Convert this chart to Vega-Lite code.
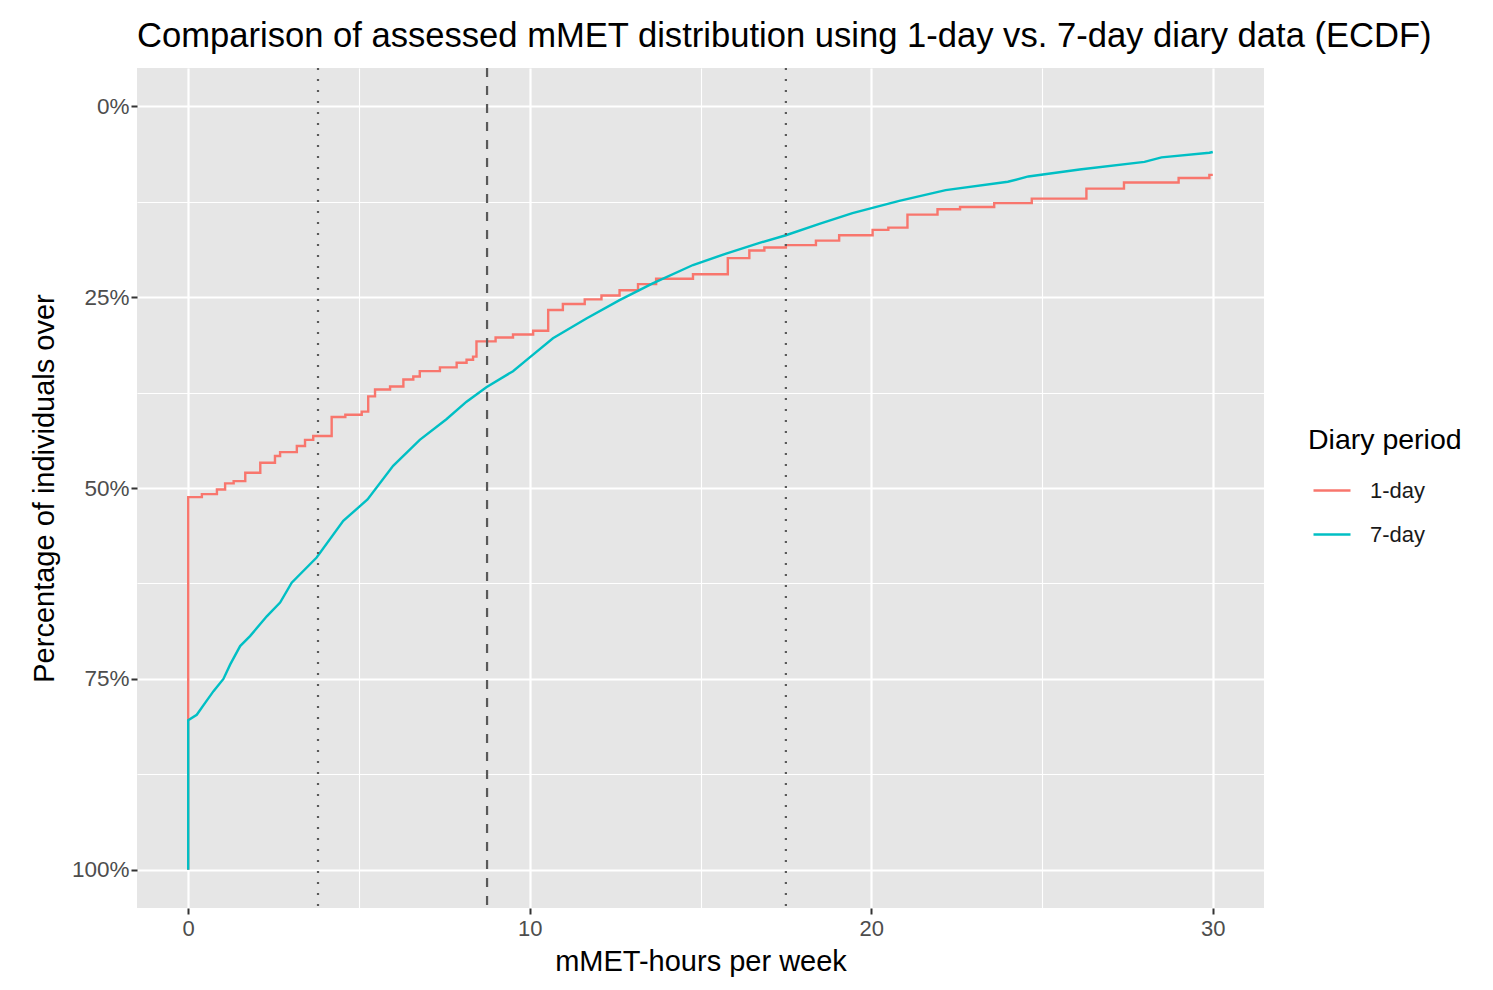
{
  "$schema": "https://vega.github.io/schema/vega-lite/v6.json",
  "width": 1127,
  "height": 840,
  "autosize": {"type": "none"},
  "padding": {"left": 137, "top": 68, "right": 229, "bottom": 82},
  "background": "white",
  "title": {
    "text": "Comparison of assessed mMET distribution using 1-day vs. 7-day diary data (ECDF)",
    "anchor": "start",
    "frame": "group",
    "font": "Liberation Sans",
    "fontSize": 34.6,
    "fontWeight": "normal",
    "color": "#000000",
    "offset": 12
  },
  "config": {
    "view": {"fill": "#E6E6E6", "stroke": null},
    "font": "Liberation Sans"
  },
  "datasets": {
    "ecdf": [
      {"period": "1-day", "ord": 0, "mmet": 0, "pct": 100},
      {"period": "1-day", "ord": 1, "mmet": 0, "pct": 51.2},
      {"period": "1-day", "ord": 2, "mmet": 0.4, "pct": 50.8},
      {"period": "1-day", "ord": 3, "mmet": 0.84, "pct": 50.2},
      {"period": "1-day", "ord": 4, "mmet": 1.08, "pct": 49.4},
      {"period": "1-day", "ord": 5, "mmet": 1.33, "pct": 49.1},
      {"period": "1-day", "ord": 6, "mmet": 1.67, "pct": 48.0},
      {"period": "1-day", "ord": 7, "mmet": 2.11, "pct": 46.7},
      {"period": "1-day", "ord": 8, "mmet": 2.54, "pct": 45.8},
      {"period": "1-day", "ord": 9, "mmet": 2.69, "pct": 45.3},
      {"period": "1-day", "ord": 10, "mmet": 3.18, "pct": 44.5},
      {"period": "1-day", "ord": 11, "mmet": 3.42, "pct": 43.7},
      {"period": "1-day", "ord": 12, "mmet": 3.66, "pct": 43.2},
      {"period": "1-day", "ord": 13, "mmet": 4.2, "pct": 40.7},
      {"period": "1-day", "ord": 14, "mmet": 4.6, "pct": 40.4},
      {"period": "1-day", "ord": 15, "mmet": 5.08, "pct": 40.0},
      {"period": "1-day", "ord": 16, "mmet": 5.27, "pct": 38.0},
      {"period": "1-day", "ord": 17, "mmet": 5.47, "pct": 37.1},
      {"period": "1-day", "ord": 18, "mmet": 5.91, "pct": 36.7},
      {"period": "1-day", "ord": 19, "mmet": 6.3, "pct": 35.8},
      {"period": "1-day", "ord": 20, "mmet": 6.59, "pct": 35.4},
      {"period": "1-day", "ord": 21, "mmet": 6.78, "pct": 34.7},
      {"period": "1-day", "ord": 22, "mmet": 7.37, "pct": 34.2},
      {"period": "1-day", "ord": 23, "mmet": 7.86, "pct": 33.6},
      {"period": "1-day", "ord": 24, "mmet": 8.15, "pct": 33.2},
      {"period": "1-day", "ord": 25, "mmet": 8.34, "pct": 32.8},
      {"period": "1-day", "ord": 26, "mmet": 8.44, "pct": 30.8},
      {"period": "1-day", "ord": 27, "mmet": 9.0, "pct": 30.3},
      {"period": "1-day", "ord": 28, "mmet": 9.51, "pct": 29.9},
      {"period": "1-day", "ord": 29, "mmet": 10.1, "pct": 29.4},
      {"period": "1-day", "ord": 30, "mmet": 10.54, "pct": 26.7},
      {"period": "1-day", "ord": 31, "mmet": 10.97, "pct": 25.9},
      {"period": "1-day", "ord": 32, "mmet": 11.61, "pct": 25.3},
      {"period": "1-day", "ord": 33, "mmet": 12.1, "pct": 24.8},
      {"period": "1-day", "ord": 34, "mmet": 12.63, "pct": 24.1},
      {"period": "1-day", "ord": 35, "mmet": 13.17, "pct": 23.3},
      {"period": "1-day", "ord": 36, "mmet": 13.7, "pct": 22.6},
      {"period": "1-day", "ord": 37, "mmet": 14.78, "pct": 22.0},
      {"period": "1-day", "ord": 38, "mmet": 15.8, "pct": 19.9},
      {"period": "1-day", "ord": 39, "mmet": 16.43, "pct": 18.9},
      {"period": "1-day", "ord": 40, "mmet": 16.87, "pct": 18.5},
      {"period": "1-day", "ord": 41, "mmet": 17.5, "pct": 18.2},
      {"period": "1-day", "ord": 42, "mmet": 18.38, "pct": 17.6},
      {"period": "1-day", "ord": 43, "mmet": 19.06, "pct": 16.9},
      {"period": "1-day", "ord": 44, "mmet": 20.04, "pct": 16.2},
      {"period": "1-day", "ord": 45, "mmet": 20.5, "pct": 15.9},
      {"period": "1-day", "ord": 46, "mmet": 21.06, "pct": 14.2},
      {"period": "1-day", "ord": 47, "mmet": 21.94, "pct": 13.5},
      {"period": "1-day", "ord": 48, "mmet": 22.6, "pct": 13.2},
      {"period": "1-day", "ord": 49, "mmet": 23.6, "pct": 12.7},
      {"period": "1-day", "ord": 50, "mmet": 24.7, "pct": 12.1},
      {"period": "1-day", "ord": 51, "mmet": 26.3, "pct": 10.8},
      {"period": "1-day", "ord": 52, "mmet": 27.4, "pct": 10.0},
      {"period": "1-day", "ord": 53, "mmet": 29.0, "pct": 9.4},
      {"period": "1-day", "ord": 54, "mmet": 29.9, "pct": 9.0},
      {"period": "1-day", "ord": 55, "mmet": 30.0, "pct": 9.0},
      {"period": "7-day", "ord": 0, "mmet": 0, "pct": 100},
      {"period": "7-day", "ord": 1, "mmet": 0, "pct": 80.4},
      {"period": "7-day", "ord": 2, "mmet": 0.25, "pct": 79.7},
      {"period": "7-day", "ord": 3, "mmet": 0.5, "pct": 78.1},
      {"period": "7-day", "ord": 4, "mmet": 0.74, "pct": 76.6},
      {"period": "7-day", "ord": 5, "mmet": 1.03, "pct": 75.0},
      {"period": "7-day", "ord": 6, "mmet": 1.23, "pct": 73.1},
      {"period": "7-day", "ord": 7, "mmet": 1.52, "pct": 70.7},
      {"period": "7-day", "ord": 8, "mmet": 1.81, "pct": 69.4},
      {"period": "7-day", "ord": 9, "mmet": 2.3, "pct": 66.8},
      {"period": "7-day", "ord": 10, "mmet": 2.69, "pct": 65.0},
      {"period": "7-day", "ord": 11, "mmet": 3.03, "pct": 62.4},
      {"period": "7-day", "ord": 12, "mmet": 3.76, "pct": 59.1},
      {"period": "7-day", "ord": 13, "mmet": 4.54, "pct": 54.3},
      {"period": "7-day", "ord": 14, "mmet": 5.25, "pct": 51.5},
      {"period": "7-day", "ord": 15, "mmet": 6.0, "pct": 47.1},
      {"period": "7-day", "ord": 16, "mmet": 6.78, "pct": 43.7},
      {"period": "7-day", "ord": 17, "mmet": 7.56, "pct": 41.0},
      {"period": "7-day", "ord": 18, "mmet": 8.15, "pct": 38.7},
      {"period": "7-day", "ord": 19, "mmet": 8.73, "pct": 36.8},
      {"period": "7-day", "ord": 20, "mmet": 9.51, "pct": 34.7},
      {"period": "7-day", "ord": 21, "mmet": 10.0, "pct": 32.9},
      {"period": "7-day", "ord": 22, "mmet": 10.68, "pct": 30.4},
      {"period": "7-day", "ord": 23, "mmet": 11.66, "pct": 27.8},
      {"period": "7-day", "ord": 24, "mmet": 12.63, "pct": 25.4},
      {"period": "7-day", "ord": 25, "mmet": 13.6, "pct": 23.2},
      {"period": "7-day", "ord": 26, "mmet": 14.78, "pct": 20.8},
      {"period": "7-day", "ord": 27, "mmet": 15.75, "pct": 19.3},
      {"period": "7-day", "ord": 28, "mmet": 16.73, "pct": 17.9},
      {"period": "7-day", "ord": 29, "mmet": 17.5, "pct": 16.9},
      {"period": "7-day", "ord": 30, "mmet": 18.48, "pct": 15.4},
      {"period": "7-day", "ord": 31, "mmet": 19.45, "pct": 14.0},
      {"period": "7-day", "ord": 32, "mmet": 20.82, "pct": 12.4},
      {"period": "7-day", "ord": 33, "mmet": 22.18, "pct": 11.0},
      {"period": "7-day", "ord": 34, "mmet": 24.0, "pct": 9.9},
      {"period": "7-day", "ord": 35, "mmet": 24.6, "pct": 9.2},
      {"period": "7-day", "ord": 36, "mmet": 26.1, "pct": 8.3},
      {"period": "7-day", "ord": 37, "mmet": 28.0, "pct": 7.3},
      {"period": "7-day", "ord": 38, "mmet": 28.5, "pct": 6.7},
      {"period": "7-day", "ord": 39, "mmet": 29.9, "pct": 6.1},
      {"period": "7-day", "ord": 40, "mmet": 30.0, "pct": 6.0}
    ],
    "cutoffs": [
      {"cutoff": 3.8, "kind": "dotted"},
      {"cutoff": 8.75, "kind": "dashed"},
      {"cutoff": 17.5, "kind": "dotted"}
    ]
  },
  "layer": [
    {
      "data": {"name": "ecdf"},
      "transform": [{"filter": "datum.period === '1-day'"}],
      "mark": {"type": "line", "interpolate": "step-after", "strokeWidth": 2.4},
      "encoding": {
        "x": {
          "field": "mmet",
          "type": "quantitative",
          "scale": {"domain": [-1.5, 31.5], "nice": false, "zero": false},
          "axis": {
            "title": "mMET-hours per week",
            "values": [0, 5, 10, 15, 20, 25, 30],
            "labelExpr": "datum.value % 10 === 0 ? datum.label : ''",
            "domain": false,
            "grid": true,
            "gridColor": "#FFFFFF",
            "gridWidth": {"condition": {"test": "datum.value % 10 === 0", "value": 2.2}, "value": 1.1},
            "tickOpacity": {"condition": {"test": "datum.value % 10 === 0", "value": 1}, "value": 0},
            "tickColor": "#333333",
            "tickWidth": 2,
            "tickSize": 6,
            "labelColor": "#4D4D4D",
            "labelFontSize": 22,
            "labelPadding": 4,
            "titleFontSize": 29,
            "titleFontWeight": "normal",
            "titleColor": "#000000",
            "titlePadding": 8
          }
        },
        "y": {
          "field": "pct",
          "type": "quantitative",
          "scale": {"domain": [-5, 105], "nice": false, "zero": false, "reverse": true},
          "axis": {
            "title": "Percentage of individuals over",
            "values": [0, 12.5, 25, 37.5, 50, 62.5, 75, 87.5, 100],
            "labelExpr": "datum.value % 25 === 0 ? datum.value + '%' : ''",
            "domain": false,
            "grid": true,
            "gridColor": "#FFFFFF",
            "gridWidth": {"condition": {"test": "datum.value % 25 === 0", "value": 2.2}, "value": 1.1},
            "tickOpacity": {"condition": {"test": "datum.value % 25 === 0", "value": 1}, "value": 0},
            "tickColor": "#333333",
            "tickWidth": 2,
            "tickSize": 6,
            "labelColor": "#4D4D4D",
            "labelFontSize": 22.5,
            "labelPadding": 2,
            "titleFontSize": 29,
            "titleFontWeight": "normal",
            "titleColor": "#000000",
            "titlePadding": 12
          }
        },
        "order": {"field": "ord", "type": "quantitative"},
        "color": {
          "field": "period",
          "type": "nominal",
          "scale": {"domain": ["1-day", "7-day"], "range": ["#F8766D", "#00BFC4"]},
          "legend": {
            "title": "Diary period",
            "orient": "none",
            "legendX": 1171,
            "legendY": 358,
            "symbolType": "stroke",
            "symbolSize": 1369,
            "symbolStrokeWidth": 2.5,
            "symbolOffset": 4,
            "clipHeight": 44,
            "rowPadding": 0,
            "titleFontSize": 28.5,
            "titleFontWeight": "normal",
            "titleColor": "#000000",
            "titlePadding": 14,
            "labelFontSize": 22,
            "labelColor": "#1A1A1A",
            "labelOffset": 18
          }
        }
      }
    },
    {
      "data": {"name": "ecdf"},
      "transform": [{"filter": "datum.period === '7-day'"}],
      "mark": {"type": "line", "interpolate": "linear", "strokeWidth": 2.4},
      "encoding": {
        "x": {"field": "mmet", "type": "quantitative"},
        "y": {"field": "pct", "type": "quantitative"},
        "order": {"field": "ord", "type": "quantitative"},
        "color": {"field": "period", "type": "nominal"}
      }
    },
    {
      "data": {"name": "cutoffs"},
      "transform": [{"filter": "datum.kind === 'dotted'"}],
      "mark": {"type": "rule", "color": "#595959", "strokeWidth": 2.2, "strokeDash": [2, 9]},
      "encoding": {"x": {"field": "cutoff", "type": "quantitative"}}
    },
    {
      "data": {"name": "cutoffs"},
      "transform": [{"filter": "datum.kind === 'dashed'"}],
      "mark": {"type": "rule", "color": "#595959", "strokeWidth": 2.2, "strokeDash": [9, 9]},
      "encoding": {"x": {"field": "cutoff", "type": "quantitative"}}
    }
  ]
}
